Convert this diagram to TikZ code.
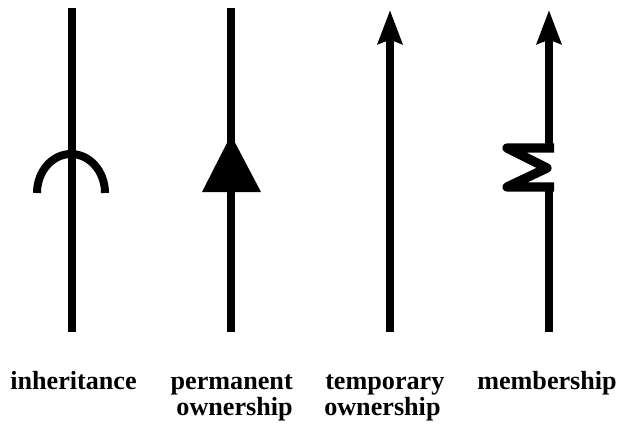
\documentclass[tikz,border=0pt]{standalone}
\usepackage{fontspec}
\setmainfont{Liberation Serif}
\usetikzlibrary{arrows.meta}
\tikzset{
    relline/.style={line width=5.67pt},
    relarrow/.style={relline, -{Stealth[length=0.84cm, width=0.6cm, inset=0.1cm]}},
    mark label/.style={inner sep=0pt, font=\bfseries\fontsize{18.6}{18.8}\selectfont}
}
\begin{document}
\begin{tikzpicture}[x=0.025cm, y=-0.025cm]
        \useasboundingbox (0, 0) rectangle (618, 424);
        % line ends
        \coordinate (inhTop) at (72, 8);
        \coordinate (inhBot) at (72, 332);
        \coordinate (perTop) at (231, 8);
        \coordinate (perBot) at (231, 332);
        \coordinate (temTop) at (390, 10);
        \coordinate (temBot) at (390, 332);
        \coordinate (memTop) at (549, 10);
        \coordinate (memBot) at (549, 332);
        \coordinate (zigA) at (549, 148);
        \coordinate (zigB) at (507, 148);
        \coordinate (zigC) at (547, 168);
        \coordinate (zigD) at (507, 187);
        \coordinate (zigE) at (549, 187);
        % inheritance
        \draw[relline] (inhTop) -- (inhBot);
        \draw[relline] (37, 193) arc[start angle=-180, end angle=0, x radius=34, y radius=39];
        % permanent ownership
        \draw[relline] (perTop) -- (perBot);
        \fill (231, 135) -- (261, 192) -- (202, 192) -- cycle;
        % temporary ownership
        \draw[relarrow] (temBot) -- (temTop);
        % membership
        \draw[relarrow] (memBot) -- (memTop);
        \fill[white] (543, 149) rectangle (555, 186);
        \draw[line width=6.6pt, line join=round] ([xshift=0.125cm]zigA) -- (zigB) -- (zigC) -- (zigD) -- ([xshift=0.125cm]zigE);
        % labels
        \node[mark label, anchor=base west] (inhLabel) at (10, 389) {inheritance};
        \node[mark label, anchor=base east] (perLabel) at (293, 389) {permanent};
        \node[mark label, anchor=base east] (perLabelB) at (293, 415) {ownership};
        \node[mark label, anchor=base west] (temLabel) at (325, 389) {temporary};
        \node[mark label, anchor=base west] (temLabelB) at (324, 415) {ownership};
        \node[mark label, anchor=base west] (memLabel) at (477, 389) {membership};
\end{tikzpicture}
\end{document}
